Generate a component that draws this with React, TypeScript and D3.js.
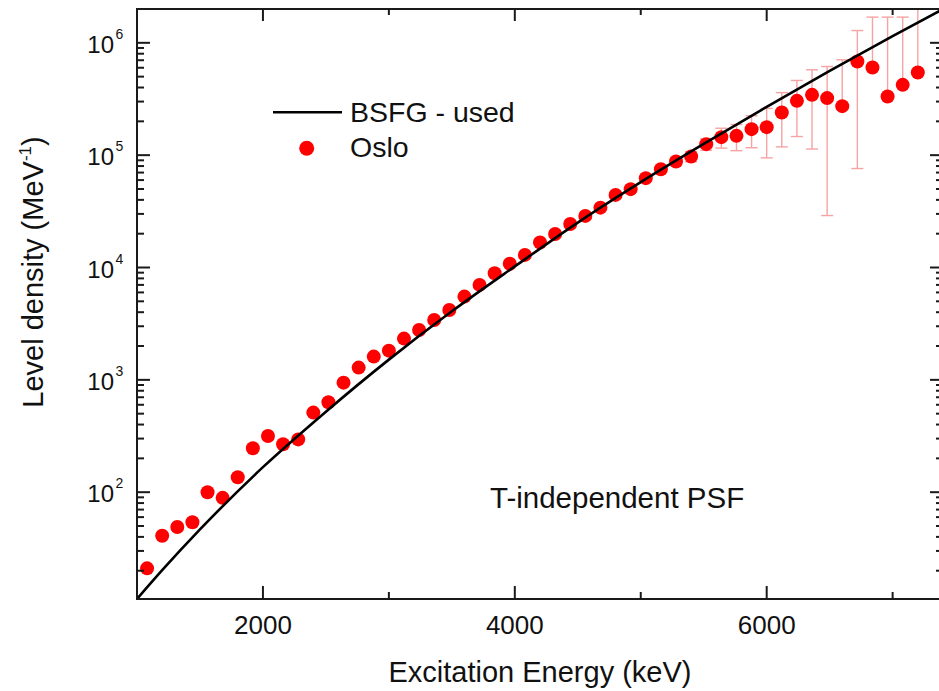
import React from "react";
import * as d3 from "d3";

// Oslo-method level density points (excitation energy in keV, density in 1/MeV)
const osloEnergy = [
  1080, 1200, 1320, 1440, 1560, 1680, 1800, 1920, 2040, 2160, 2280, 2400, 2520,
  2640, 2760, 2880, 3000, 3120, 3240, 3360, 3480, 3600, 3720, 3840, 3960, 4080,
  4200, 4320, 4440, 4560, 4680, 4800, 4920, 5040, 5160, 5280, 5400, 5520, 5640,
  5760, 5880, 6000, 6120, 6240, 6360, 6480, 6600, 6720, 6840, 6960, 7080, 7200,
];
const osloDensity = [
  21, 41, 49, 54, 100, 89, 136, 246, 316, 267, 295, 511, 631, 944, 1285, 1610,
  1820, 2330, 2780, 3410, 4190, 5510, 7000, 8900, 10800, 12950, 16700, 19900,
  24400, 28800, 34100, 44300, 49800, 62400, 75000, 87700, 97200, 125300, 144600,
  148600, 170500, 177600, 239500, 304500, 344400, 322000, 273000, 681000, 602800,
  332500, 422700, 544200,
];
const osloError = [
  0, 0, 0, 0, 0, 0, 0, 0, 0, 0, 0, 0, 0, 0, 0, 0, 0, 0, 0, 0, 0, 0, 0, 0, 0, 0,
  0, 0, 0, 0, 0, 0, 0, 3000, 4000, 7000, 10000, 15000, 29000, 39000, 54000,
  83000, 121000, 158000, 231000, 293000, 433000, 605000, 1091000, 1361000,
  1271000, 1600000,
];

// Back-shifted Fermi gas curve
const bsfgEnergy = [1000, 1200, 1500, 2000, 2500, 3000, 3500, 4000, 4500, 5000, 5500, 6000, 6500, 7000, 7400];
const bsfgDensity = [11.2, 20.2, 46.6, 167, 521, 1514, 4074, 10230, 25120, 57540, 125900, 269200, 562300, 1148000, 1995000];

const xMajorTicks = [2000, 4000, 6000];
const xMinorTicks = [3000, 5000, 7000];
const yDecadeExponents = [2, 3, 4, 5, 6];

const W = 939;
const H = 691;
const plot = { left: 137, right: 943, top: 9, bottom: 599 };
const FONT = "'Liberation Sans', Arial, Helvetica, sans-serif";
const AXIS = "#1a1a1a";
const ERR = "#f6a3a3";

export default function App() {
  const x = d3.scaleLinear().domain([1000, 7400]).range([plot.left, plot.right]);
  const y = d3.scaleLog().domain([11.2, 2e6]).range([plot.bottom, plot.top]);

  const bsfgLine = d3
    .line<number>()
    .x((_, i) => x(bsfgEnergy[i]))
    .y((d) => y(d))
    .curve(d3.curveMonotoneX);

  const [yMin, yMax] = y.domain();
  const yMinor: number[] = [];
  for (let e = 1; e <= 6; e++) {
    for (let m = 2; m <= 9; m++) {
      const v = m * Math.pow(10, e);
      if (v > yMin && v < yMax) yMinor.push(v);
    }
  }

  const majorLen = 13;
  const minorLen = 7;

  return (
    <div style={{ position: "absolute", left: 0, top: 0, width: W, height: H, overflow: "hidden", background: "#fff" }}>
      <svg width={W} height={H} style={{ display: "block" }} fontFamily={FONT}>
        <defs>
          <clipPath id="plotArea">
            <rect x={plot.left} y={plot.top} width={plot.right - plot.left} height={plot.bottom - plot.top} />
          </clipPath>
        </defs>
        <rect width={W} height={H} fill="#ffffff" />

        {/* error bars */}
        <g clipPath="url(#plotArea)" stroke={ERR} strokeWidth={1.4} fill="none">
          {osloEnergy.map((e, i) => {
            const err = osloError[i];
            if (!err) return null;
            const v = osloDensity[i];
            const cx = x(e);
            const hi = v + err;
            const lo = v - err;
            const yHi = y(hi);
            const yLo = lo > 0 ? y(lo) : null;
            return (
              <g key={i}>
                <line x1={cx} x2={cx} y1={y(v)} y2={yHi} />
                {yHi > plot.top + 1 && <line x1={cx - 6} x2={cx + 6} y1={yHi} y2={yHi} />}
                {yLo !== null && (
                  <>
                    <line x1={cx} x2={cx} y1={y(v)} y2={yLo} />
                    <line x1={cx - 6} x2={cx + 6} y1={yLo} y2={yLo} />
                  </>
                )}
              </g>
            );
          })}
        </g>

        {/* data points */}
        <g clipPath="url(#plotArea)" fill="#ff0000">
          {osloEnergy.map((e, i) => (
            <circle key={i} cx={x(e)} cy={y(osloDensity[i])} r={7} />
          ))}
        </g>

        {/* BSFG curve */}
        <g clipPath="url(#plotArea)">
          <path d={bsfgLine(bsfgDensity) || ""} fill="none" stroke="#000" strokeWidth={2.6} />
        </g>

        {/* frame */}
        <rect
          x={plot.left}
          y={plot.top}
          width={plot.right - plot.left}
          height={plot.bottom - plot.top}
          fill="none"
          stroke={AXIS}
          strokeWidth={2}
        />

        {/* x ticks, bottom and top */}
        <g stroke={AXIS} strokeWidth={2}>
          {xMajorTicks.map((t) => (
            <g key={"xM" + t}>
              <line x1={x(t)} x2={x(t)} y1={plot.bottom} y2={plot.bottom - majorLen} />
              <line x1={x(t)} x2={x(t)} y1={plot.top} y2={plot.top + majorLen - 1} />
            </g>
          ))}
          {xMinorTicks.map((t) => (
            <g key={"xm" + t}>
              <line x1={x(t)} x2={x(t)} y1={plot.bottom} y2={plot.bottom - minorLen} />
              <line x1={x(t)} x2={x(t)} y1={plot.top} y2={plot.top + minorLen - 1} />
            </g>
          ))}
        </g>

        {/* y ticks, left and right */}
        <g stroke={AXIS} strokeWidth={2}>
          {yDecadeExponents.map((p) => {
            const yy = y(Math.pow(10, p));
            return (
              <g key={"yM" + p}>
                <line x1={plot.left} x2={plot.left + majorLen} y1={yy} y2={yy} />
                <line x1={plot.right} x2={plot.right - majorLen} y1={yy} y2={yy} />
              </g>
            );
          })}
          {yMinor.map((v) => {
            const yy = y(v);
            return (
              <g key={"ym" + v}>
                <line x1={plot.left} x2={plot.left + minorLen} y1={yy} y2={yy} />
                <line x1={plot.right} x2={plot.right - minorLen} y1={yy} y2={yy} />
              </g>
            );
          })}
        </g>

        {/* x tick labels */}
        <g fontSize={26} fill="#111" textAnchor="middle">
          {xMajorTicks.map((t) => (
            <text key={"xl" + t} x={x(t)} y={634}>
              {t}
            </text>
          ))}
        </g>

        {/* y tick labels */}
        <g fill="#111">
          {yDecadeExponents.map((p) => {
            const yy = y(Math.pow(10, p));
            return (
              <g key={"yl" + p}>
                <text x={114} y={yy + 10} fontSize={24} textAnchor="end">
                  10
                </text>
                <text x={115.5} y={yy - 4} fontSize={14}>
                  {p}
                </text>
              </g>
            );
          })}
        </g>

        {/* axis titles */}
        <text x={540} y={682} fontSize={29} textAnchor="middle" fill="#111">
          Excitation Energy (keV)
        </text>
        <text transform="translate(43,272) rotate(-90)" fontSize={29} textAnchor="middle" fill="#111">
          Level density (MeV
          <tspan fontSize={17} dy={-12}>
            -1
          </tspan>
          <tspan dy={12}>)</tspan>
        </text>

        {/* legend */}
        <line x1={273} x2={342} y1={112.3} y2={112.3} stroke="#000" strokeWidth={2.6} />
        <text x={350} y={121.7} fontSize={28.5} fill="#111">
          BSFG - used
        </text>
        <circle cx={306.7} cy={148.3} r={7.5} fill="#ff0000" />
        <text x={350} y={156.7} fontSize={28.5} fill="#111">
          Oslo
        </text>

        {/* annotation */}
        <text x={490} y={508} fontSize={29.5} fill="#111">
          T-independent PSF
        </text>
      </svg>
    </div>
  );
}
